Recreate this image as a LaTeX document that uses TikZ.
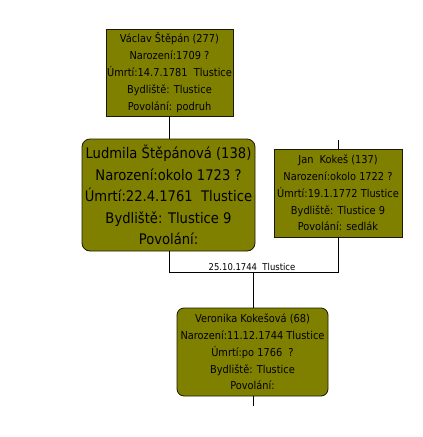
\documentclass[tikz,border=0pt]{standalone}
\usepackage{fontspec}
\setmainfont{DejaVu Sans}[FakeStretch=0.9]
\definecolor{boxfill}{HTML}{808000}
\definecolor{boxline}{HTML}{1A1A00}
\begin{document}
\begin{tikzpicture}[x=1pt,y=-1pt,
  person/.style={draw=boxline, line width=0.8pt, fill=boxfill, align=center, inner sep=0pt, text=black},
  small/.style={font=\fontsize{10.9}{16.8}\selectfont},
  big/.style={font=\fontsize{14.6}{21.5}\selectfont},
  link/.style={draw=black, line width=0.8pt},
  datelabel/.style={font=\fontsize{9.4}{11}\selectfont, inner sep=0pt}]
\useasboundingbox (0,0) rectangle (423,437);
\fill[white] (0,0) rectangle (423,437);
\node[person, small, minimum width=127pt, minimum height=87pt] (vaclav) at (169.5,72.5)
  {Václav Štěpán (277)\\Narození:1709 ?\\Úmrtí:14.7.1781\ \ Tlustice\\Bydliště: Tlustice\\Povolání: podruh};
\node[person, big, rounded corners=8pt, minimum width=173pt, minimum height=112pt] (ludmila) at (168.5,195)
  {Ludmila Štěpánová (138)\\Narození:okolo 1723 ?\\Úmrtí:22.4.1761\ \ Tlustice\\Bydliště: Tlustice 9\\Povolání:};
\node[person, small, minimum width=128pt, minimum height=88pt] (jan) at (338,193)
  {Jan\ \ Kokeš (137)\\Narození:okolo 1722 ?\\Úmrtí:19.1.1772\ Tlustice\\Bydliště: Tlustice 9\\Povolání: sedlák};
\node[person, small, rounded corners=7pt, minimum width=151pt, minimum height=88pt] (veronika) at (252.5,352)
  {Veronika Kokešová (68)\\Narození:11.12.1744 Tlustice\\Úmrtí:po 1766\ \ ?\\Bydliště: Tlustice\\Povolání:};
\coordinate (janup) at (338,140);
\coordinate (verdown) at (253,406);
\coordinate (mleft) at (169,272);
\coordinate (mright) at (338,272);
\coordinate (mmid) at (253,272);
\node[datelabel, anchor=base] (marriage) at (252,270) {25.10.1744\ \ Tlustice};
\draw[link] (vaclav.south -| mleft) -- (ludmila.north -| mleft);
\draw[link] (janup) -- (jan.north);
\draw[link] (ludmila.south -| mleft) -- (mleft) -- (mright) -- (jan.south);
\draw[link] (mmid) -- (veronika.north -| mmid);
\draw[link] (veronika.south -| verdown) -- (verdown);
\end{tikzpicture}
\end{document}
